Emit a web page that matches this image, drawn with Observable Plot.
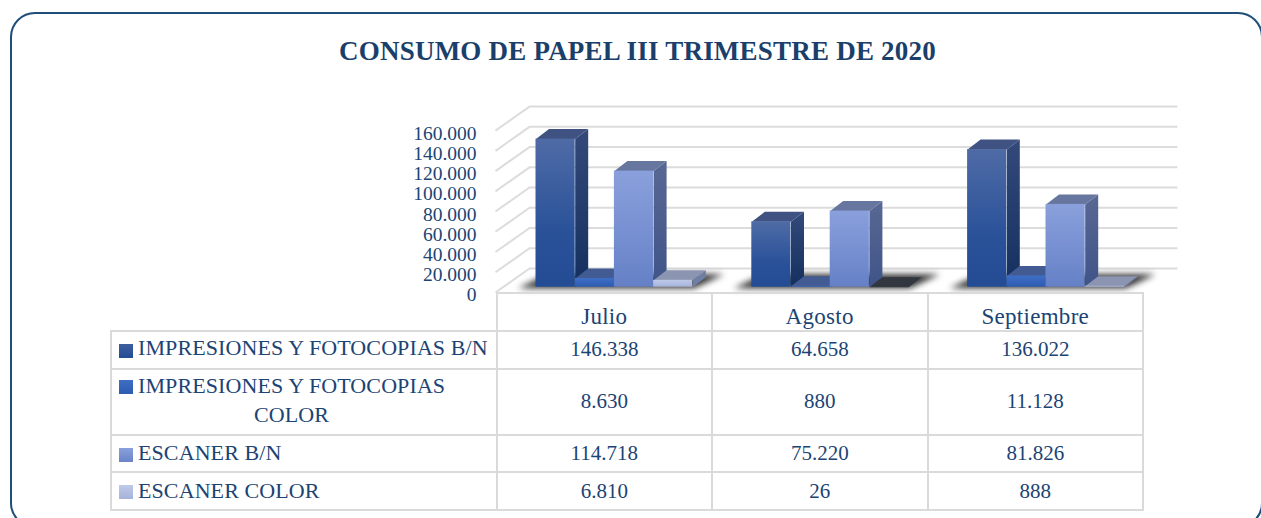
<!DOCTYPE html>
<html lang="es">
<head>
<meta charset="utf-8">
<script src="https://cdn.jsdelivr.net/npm/d3@7"></script>
<script src="https://cdn.jsdelivr.net/npm/@observablehq/plot@0.6"></script>
<style>
  html, body { margin: 0; padding: 0; background: #fff; width: 1261px; height: 518px; overflow: hidden; }
  body { position: relative; font-family: "Liberation Serif", serif; color: #1b4474; }
  #frame { position: absolute; left: 10px; top: 12px; width: 1253px; height: 516px; box-sizing: border-box;
           border: 2px solid #1f4e79; border-radius: 25px; }
  #title { position: absolute; left: 0; top: 35px; width: 1275px; text-align: center; font-weight: bold;
           font-size: 27px; line-height: 32px; color: #1b3f6b; letter-spacing: 0.22px; white-space: nowrap; }
  #chart { position: absolute; left: 0; top: 0; }
  #chart svg { display: block; background: transparent; }
  table { position: absolute; left: 110px; top: 292px; width: 1034px; table-layout: fixed; border-collapse: collapse;
          font-size: 21px; color: #1b4474; }
  td { border: 2px solid #dadada; padding: 0; text-align: center; position: relative; white-space: nowrap; }
  td.blank { border-top: none; border-left: none; }
  td.month { font-size: 23px; letter-spacing: 0.3px; padding-top: 10px; box-sizing: border-box; }
  td.label { text-align: left; padding-left: 26px; line-height: 29px; font-size: 22px; letter-spacing: 0.1px; }
  td.label .txt { display: inline-block; text-align: center; position: relative; top: -2px; }
  .key { position: absolute; left: 7px; width: 14px; height: 14px; }
</style>
</head>
<body>
<div id="frame"></div>
<div id="title">CONSUMO DE PAPEL III TRIMESTRE DE 2020</div>
<div id="chart"></div>
<table id="tbl"></table>
<script>
const months = ["Julio", "Agosto", "Septiembre"];
const seriesNames = ["IMPRESIONES Y FOTOCOPIAS B/N", "IMPRESIONES Y FOTOCOPIAS<br>COLOR", "ESCANER B/N", "ESCANER COLOR"];
const impresionesBN = [146338, 64658, 136022];
const impresionesColor = [8630, 880, 11128];
const escanerBN = [114718, 75220, 81826];
const escanerColor = [6810, 26, 888];
const seriesValues = [impresionesBN, impresionesColor, escanerBN, escanerColor];
const ticks = [0, 20000, 40000, 60000, 80000, 100000, 120000, 140000, 160000];

const fmt = d3.formatLocale({decimal: ",", thousands: ".", grouping: [3], currency: ["", ""]}).format(",d");

// Palette: [front top, front bottom, side top, side bottom, top face]
const palette = [
  ["#4f6ba6", "#234c95", "#33497a", "#14305f", "#3f5281"],
  ["#3f6fc4", "#2c5bb2", "#33497a", "#14305f", "#425b92"],
  ["#8aa0dc", "#6580c6", "#596894", "#3f5488", "#67769f"],
  ["#bfc9e8", "#a6b3da", "#6e7ea4", "#6e7ea4", "#8b95b1"]
];
const keyGradients = [["#3f5f9f", "#234c95"], ["#3f6fc4", "#2c5bb2"], ["#8aa0dc", "#6a84c8"], ["#bfc9e8", "#a6b3da"]];

// Oblique projection, expressed in the units of the chart's own x and y scales.
const plotW = 1261, plotH = 312, mL = 497, mR = 116.6, mT = 124.8, mB = 25.3;
const xPx = 3 / (plotW - mL - mR);              // x units per pixel
const yPx = 160000 / (plotH - mT - mB);         // y units per pixel
const barStart = 38.5 * xPx, barWidth = 39.2 * xPx;
const depthX = 13 * xPx, depthY = 10 * yPx;
const nearZero = 100;

const bars = seriesValues.flatMap((vals, s) => vals.map((v, m) => {
  const x1 = m + barStart + s * barWidth;
  return {s, m, v, x1, x2: x1 + barWidth};
}));

const poly = (id, pts) => pts.map(([x, y]) => ({id, x, y}));
const sidePts = b => poly(b.m, [[b.x2, 0], [b.x2 + depthX, depthY], [b.x2 + depthX, b.v + depthY], [b.x2, b.v]]);
const topPts = b => poly(b.m, [[b.x1, b.v], [b.x2, b.v], [b.x2 + depthX, b.v + depthY], [b.x1 + depthX, b.v + depthY]]);
const shadowPts = months.flatMap((_, m) => {
  const x0 = m + barStart;
  return poly(m, [
    [x0 - 18 * xPx, -1 * yPx],
    [x0 + 158 * xPx, -1 * yPx],
    [x0 + 188 * xPx, 13 * yPx],
    [x0 + 12 * xPx, 13 * yPx]
  ]);
});

const face = (pts, fill, extra = {}) => Plot.line(pts, {x: "x", y: "y", z: "id", fill, stroke: "none", curve: "linear", ...extra});

const defs = () => {
  const d = d3.create("svg:defs");
  palette.forEach((p, i) => {
    const front = d.append("linearGradient").attr("id", `front${i}`).attr("x1", 0).attr("x2", 0).attr("y1", 0).attr("y2", 1);
    front.append("stop").attr("offset", "0%").attr("stop-color", p[0]);
    front.append("stop").attr("offset", "62%").attr("stop-color", i === 0 ? "#2a5299" : d3.interpolateRgb(p[0], p[1])(0.6));
    front.append("stop").attr("offset", "100%").attr("stop-color", p[1]);
    const side = d.append("linearGradient").attr("id", `side${i}`).attr("x1", 0).attr("x2", 0).attr("y1", 0).attr("y2", 1);
    side.append("stop").attr("offset", "0%").attr("stop-color", p[2]);
    side.append("stop").attr("offset", "100%").attr("stop-color", p[3]);
  });
  return d.node();
};

const barMarks = palette.flatMap((p, s) => {
  const row = bars.filter(b => b.s === s);
  return [
    face(row.flatMap(sidePts), `url(#side${s})`),
    face(row.filter(b => b.v >= nearZero).flatMap(topPts), p[4]),
    face(row.filter(b => b.v < nearZero).flatMap(topPts), "#32363f"),
    Plot.rect(row, {x1: "x1", x2: "x2", y1: 0, y2: "v", fill: `url(#front${s})`, inset: 0})
  ];
});

const grid = "#dcdcdc";
const chart = Plot.plot({
  width: plotW, height: plotH,
  marginLeft: mL, marginRight: mR, marginTop: mT, marginBottom: mB,
  x: {type: "linear", domain: [0, 3], axis: null},
  y: {type: "linear", domain: [0, 160000], axis: null},
  style: {fontFamily: '"Liberation Serif", serif', fontSize: "19.5px", color: "#1b4474", background: "transparent"},
  marks: [
    defs,
    Plot.link(ticks, {
      x1: -2 * xPx, x2: 32 * xPx,
      y1: d => d - 5.3 * yPx, y2: d => d + 18.7 * yPx,
      stroke: grid, strokeWidth: 2
    }),
    Plot.ruleY(ticks, {x1: 32 * xPx, x2: 3 + 33 * xPx, dy: -18.7, stroke: grid, strokeWidth: 2}),
    face(shadowPts, "#262626", {imageFilter: "blur(3px)", opacity: 0.95}),
    ...barMarks,
    Plot.axisY(ticks, {
      anchor: "left", tickSize: 0, tickPadding: 21, dy: 8,
      tickFormat: fmt, fontSize: 19.5, label: null
    })
  ]
});
document.getElementById("chart").append(chart);

// Data table beneath the plot
const tbl = d3.select("#tbl");
const cg = tbl.append("colgroup");
[385.5, 215.5, 215.5, 215.5].forEach(w => cg.append("col").style("width", w + "px"));
const head = tbl.append("tr").style("height", "37.5px");
head.append("td").attr("class", "blank");
months.forEach(m => head.append("td").attr("class", "month").text(m));
const rowH = [37.5, 66, 37.5, 38];
seriesNames.forEach((name, s) => {
  const tr = tbl.append("tr").style("height", rowH[s] + "px");
  const lab = tr.append("td").attr("class", "label");
  lab.append("span").attr("class", "key")
     .style("top", s === 1 ? "10px" : "12px")
     .style("background", `linear-gradient(${keyGradients[s][0]}, ${keyGradients[s][1]})`);
  lab.append("span").attr("class", "txt").style("top", s >= 2 ? "-1px" : "-2px").html(name);
  seriesValues[s].forEach(v => tr.append("td").text(fmt(v)));
});
</script>
</body>
</html>
